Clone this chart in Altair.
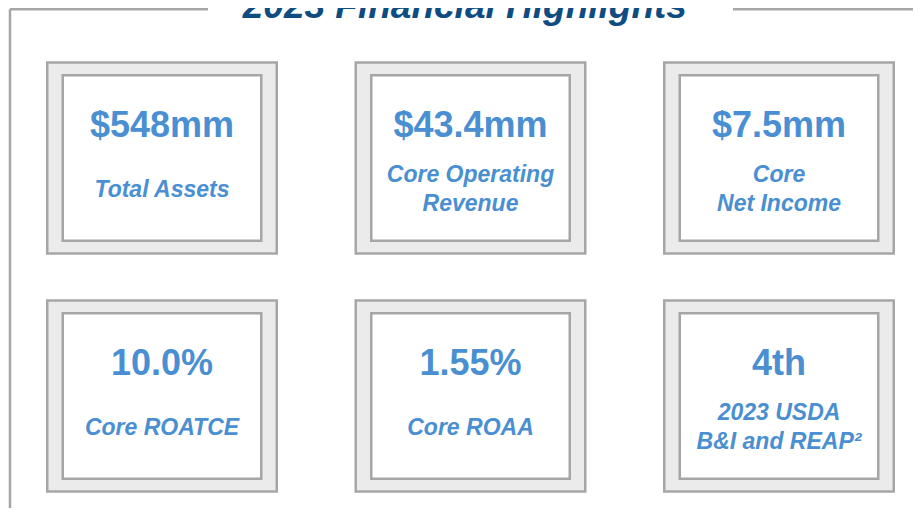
import altair as alt
import pandas as pd

# ---- content ----
values = ["$548mm", "$43.4mm", "$7.5mm", "10.0%", "1.55%", "4th"]
label_line1 = ["Total Assets", "Core Operating", "Core", "Core ROATCE", "Core ROAA", "2023 USDA"]
label_line2 = ["", "Revenue", "Net Income", "", "", "B&I and REAP²"]
grid_col = [0, 1, 2, 0, 1, 2]
grid_row = [0, 0, 0, 1, 1, 1]
title_text = "2023 Financial Highlights¹"

# ---- layout (pixels converted to grid units) ----
W, H = 905, 500
COL_PX, ROW_PX = 308.5, 238.0
X0, Y0 = 154.0, 150.0


def ux(px):
    return px / COL_PX


def uy(px):
    return px / ROW_PX


xs = alt.Scale(domain=[-X0 / COL_PX, (W - X0) / COL_PX], nice=False, zero=False)
ys = alt.Scale(domain=[-Y0 / ROW_PX, (H - Y0) / ROW_PX], nice=False, zero=False, reverse=True)

BLUE = "#4a8fd1"
NAVY = "#0f4c81"
GRAY = "#a6a6a6"
FILL = "#ebebeb"
FONT = "Liberation Sans"

boxes = pd.DataFrame({"c": grid_col, "r": grid_row})
outer = boxes.assign(x1=boxes.c - ux(114.75), x2=boxes.c + ux(114.75),
                     y1=boxes.r - uy(95.5), y2=boxes.r + uy(95.5))
inner = boxes.assign(x1=boxes.c - ux(99.25), x2=boxes.c + ux(99.25),
                     y1=boxes.r - uy(82.75), y2=boxes.r + uy(82.75))


def rects(df, fill):
    return alt.Chart(df).mark_rect(fill=fill, stroke=GRAY, strokeWidth=2.5).encode(
        x=alt.X("x1:Q", scale=xs, axis=None),
        x2="x2:Q",
        y=alt.Y("y1:Q", scale=ys, axis=None),
        y2="y2:Q",
    )


# value texts
val_df = pd.DataFrame({"x": grid_col, "y": [r - uy(21) for r in grid_row], "t": values})
val_layer = alt.Chart(val_df).mark_text(
    font=FONT, fontSize=36, fontWeight="bold", color=BLUE, baseline="alphabetic", align="center"
).encode(x=alt.X("x:Q", scale=xs, axis=None), y=alt.Y("y:Q", scale=ys, axis=None), text="t:N")

# label texts
lab_rows = []
for c, r, l1, l2 in zip(grid_col, grid_row, label_line1, label_line2):
    if l2:
        lab_rows.append({"x": c, "y": r + uy(24), "t": l1})
        lab_rows.append({"x": c, "y": r + uy(52.5), "t": l2})
    else:
        lab_rows.append({"x": c, "y": r + uy(38.5), "t": l1})
lab_df = pd.DataFrame(lab_rows)
lab_layer = alt.Chart(lab_df).mark_text(
    font=FONT, fontSize=23, fontWeight="bold", fontStyle="italic", color=BLUE,
    baseline="alphabetic", align="center"
).encode(x=alt.X("x:Q", scale=xs, axis=None), y=alt.Y("y:Q", scale=ys, axis=None), text="t:N")

# frame lines: top-left segment, left side, top-right segment
top_y = (1.25 - Y0) / ROW_PX
frame = pd.DataFrame({
    "x1": [ux(2 - X0), ux(2 - X0), ux(725 - X0)],
    "x2": [ux(200 - X0), ux(2 - X0), ux(W - X0)],
    "y1": [top_y, top_y, top_y],
    "y2": [top_y, (H - Y0) / ROW_PX, top_y],
})
frame_layer = alt.Chart(frame).mark_rule(color=GRAY, strokeWidth=2.5).encode(
    x=alt.X("x1:Q", scale=xs, axis=None), x2="x2:Q",
    y=alt.Y("y1:Q", scale=ys, axis=None), y2="y2:Q",
)

title_df = pd.DataFrame({"x": [1.0 + ux(0.5)], "y": [(9.5 - Y0) / ROW_PX], "t": [title_text]})
title_layer = alt.Chart(title_df).mark_text(
    font=FONT, fontSize=37, fontWeight="bold", fontStyle="italic", color=NAVY,
    baseline="alphabetic", align="center"
).encode(x=alt.X("x:Q", scale=xs, axis=None), y=alt.Y("y:Q", scale=ys, axis=None), text="t:N")

chart = alt.layer(
    frame_layer, rects(outer, FILL), rects(inner, "white"), val_layer, lab_layer, title_layer
).properties(
    width=W, height=H, padding=0, autosize=alt.AutoSizeParams(type="none")
).configure_view(stroke=None)

chart.save("out.html", embed_options={"renderer": "svg", "actions": False})
